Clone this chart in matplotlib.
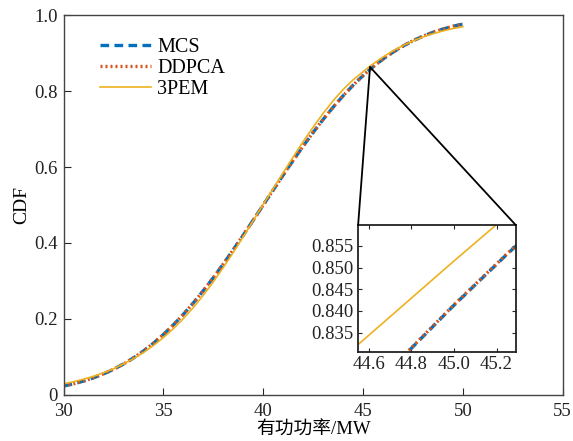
import matplotlib
matplotlib.use("Agg")
import matplotlib.pyplot as plt
from matplotlib.patches import ConnectionPatch

x = [30, 30.5, 31, 31.5, 32, 32.5, 33, 33.5, 34, 34.5, 35, 35.5, 36, 36.5, 37, 37.5,
     38, 38.5, 39, 39.5, 40, 40.5, 41, 41.5, 42, 42.5, 43, 43.5, 44, 44.5, 44.75, 45,
     45.25, 45.5, 46, 46.5, 47, 47.5, 48, 48.5, 49, 49.5, 50]

mcs = [0.0228, 0.0287, 0.0359, 0.0446, 0.0548, 0.0668, 0.0808, 0.0968, 0.1151, 0.1357,
       0.1587, 0.1841, 0.2119, 0.2420, 0.2743, 0.3085, 0.3446, 0.3821, 0.4207, 0.4602,
       0.5000, 0.5398, 0.5793, 0.6179, 0.6554, 0.6915, 0.7257, 0.7580, 0.7881, 0.8159,
       0.8289, 0.8413, 0.8531, 0.8643, 0.8849, 0.9032, 0.9192, 0.9332, 0.9452, 0.9554,
       0.9641, 0.9713, 0.9772]

ddpca = [0.0230, 0.0288, 0.0361, 0.0447, 0.0550, 0.0669, 0.0810, 0.0969, 0.1152, 0.1358,
         0.1588, 0.1842, 0.2120, 0.2421, 0.2744, 0.3086, 0.3447, 0.3822, 0.4208, 0.4603,
         0.5001, 0.5399, 0.5794, 0.6180, 0.6555, 0.6916, 0.7258, 0.7581, 0.7882, 0.8160,
         0.8290, 0.8414, 0.8532, 0.8644, 0.8850, 0.9033, 0.9193, 0.9333, 0.9453, 0.9555,
         0.9642, 0.9714, 0.9773]

pem3 = [0.0288, 0.0342, 0.0409, 0.0486, 0.0578, 0.0683, 0.0813, 0.0950, 0.1111, 0.1297,
        0.1507, 0.1741, 0.2009, 0.2300, 0.2623, 0.2975, 0.3356, 0.3751, 0.4167, 0.4592,
        0.5020, 0.5433, 0.5853, 0.6269, 0.6674, 0.7055, 0.7417, 0.7750, 0.8046, 0.8301,
        0.8408, 0.8515, 0.8620, 0.8720, 0.8904, 0.9067, 0.9207, 0.9327, 0.9432, 0.9519,
        0.9591, 0.9653, 0.9702]

labels = ["MCS", "DDPCA", "3PEM"]
xticks = [30, 35, 40, 45, 50, 55]
yticks = [0, 0.2, 0.4, 0.6, 0.8, 1.0]
ytick_labels = ["0", "0.2", "0.4", "0.6", "0.8", "1.0"]
inset_xticks = [44.6, 44.8, 45.0, 45.2]
inset_yticks = [0.835, 0.840, 0.845, 0.850, 0.855]
zoom_point = (45.35, 0.864)

plt.rcParams['font.family'] = ['Liberation Serif', 'Noto Sans CJK SC']
plt.rcParams['font.size'] = 13.5

c_mcs = '#0072BD'
c_dd = '#D95319'
c_pem = '#EDB120'
spine_c = '#262626'

fig = plt.figure(figsize=(5.73, 4.41), dpi=100)
ax = fig.add_axes([0.111, 0.105, 0.871, 0.860])

def draw(a):
    a.plot(x, mcs, color=c_mcs, lw=2.4, ls=(0, (2.6, 1.6)), label=labels[0])
    a.plot(x, ddpca, color=c_dd, lw=2.4, ls=(0, (0.6, 0.9)), label=labels[1])
    a.plot(x, pem3, color=c_pem, lw=1.2, label=labels[2])

draw(ax)
ax.set_xlim(30, 55)
ax.set_ylim(0, 1)
ax.set_xticks(xticks)
ax.set_yticks(yticks)
ax.set_yticklabels(ytick_labels)
ax.tick_params(direction='in', length=5, width=0.8, colors=spine_c, labelcolor='#222222',
               labelsize=13.5)
ax.tick_params(axis='x', pad=6)
ax.tick_params(axis='y', pad=4)
for s in ax.spines.values():
    s.set_color('#444444')
    s.set_linewidth(1.0)
ax.set_xlabel('有功功率/MW', fontsize=13.5, labelpad=1)
ax.set_ylabel('CDF', fontsize=14, labelpad=3)

leg = ax.legend(loc='upper left', bbox_to_anchor=(0.056, 0.962), frameon=False,
                handlelength=2.55, handletextpad=0.3, labelspacing=0.1, fontsize=14.5,
                borderaxespad=0)

axin = fig.add_axes([0.625, 0.2025, 0.275, 0.2873])
draw(axin)
axin.set_xlim(44.55, 45.29)
axin.set_ylim(0.8306, 0.8598)
axin.set_xticks(inset_xticks)
axin.set_xticklabels([f"{v:.1f}" for v in inset_xticks])
axin.set_yticks(inset_yticks)
axin.set_yticklabels([f"{v:.3f}" for v in inset_yticks])
axin.tick_params(direction='in', length=3, width=0.8, top=True, right=True,
                 colors=spine_c, labelcolor='#222222', labelsize=13.5, pad=3)
for s in axin.spines.values():
    s.set_color('#222222')
    s.set_linewidth(1.3)

for corner in [(0, 1), (1, 1)]:
    con = ConnectionPatch(xyA=zoom_point, coordsA=ax.transData,
                          xyB=corner, coordsB=axin.transAxes,
                          color='black', lw=1.3)
    fig.add_artist(con)

fig.savefig('out.png', dpi=100)
